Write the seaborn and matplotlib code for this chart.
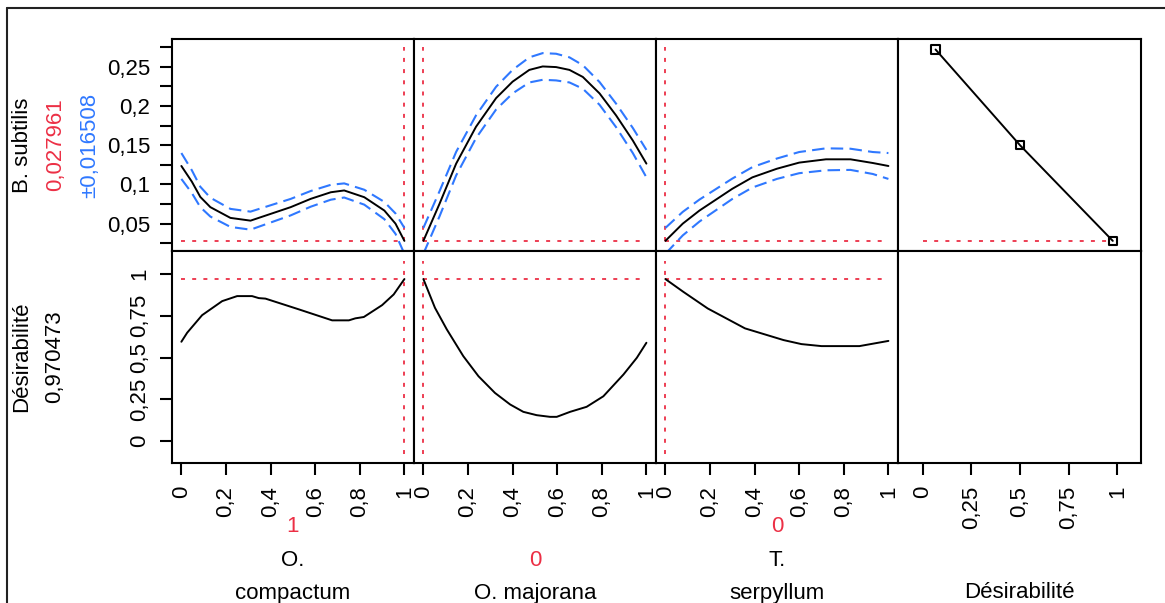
import matplotlib
matplotlib.use("Agg")
import matplotlib.pyplot as plt
from matplotlib.lines import Line2D
import pandas as pd
import seaborn as sns

# ---- profiler data -------------------------------------------------------
# B. subtilis prediction traces (with half-width of the confidence band)
compactum_x = [0, 0.047, 0.085, 0.13, 0.22, 0.31, 0.40, 0.49, 0.58, 0.67, 0.73, 0.82, 0.91,
               0.96, 1.0]
compactum_bs = [0.1235, 0.1035, 0.084, 0.071, 0.0573, 0.0538, 0.0624, 0.071, 0.0816, 0.090,
                0.0923, 0.0837, 0.0667, 0.05, 0.028]
compactum_ci = [0.0165, 0.0145, 0.013, 0.012, 0.0115, 0.0115, 0.011, 0.0105, 0.010, 0.0095,
                0.009, 0.0095, 0.011, 0.013, 0.0165]

majorana_x = [0, 0.072, 0.147, 0.236, 0.326, 0.40, 0.475, 0.535, 0.595, 0.655, 0.715, 0.79,
              0.864, 0.939, 1.0]
majorana_bs = [0.028, 0.075, 0.1265, 0.1735, 0.21, 0.231, 0.246, 0.2504, 0.2496, 0.246, 0.237,
               0.216, 0.188, 0.156, 0.1265]
majorana_ci = [0.0165, 0.016, 0.015, 0.0145, 0.0145, 0.015, 0.016, 0.017, 0.017, 0.016, 0.015,
               0.0145, 0.015, 0.016, 0.0175]

serpyllum_x = [0, 0.078, 0.153, 0.30, 0.39, 0.50, 0.60, 0.72, 0.83, 0.93, 1.0]
serpyllum_bs = [0.028, 0.05, 0.0667, 0.0944, 0.109, 0.120, 0.1278, 0.132, 0.132, 0.1273, 0.1235]
serpyllum_ci = [0.0165, 0.015, 0.014, 0.013, 0.013, 0.013, 0.0135, 0.014, 0.0135, 0.014, 0.0165]

# desirability traces
compactum_dx = [0, 0.026, 0.093, 0.183, 0.25, 0.317, 0.347, 0.377, 0.526, 0.676, 0.751, 0.78,
                0.818, 0.90, 0.952, 1.0]
compactum_d = [0.595, 0.649, 0.754, 0.838, 0.868, 0.868, 0.856, 0.853, 0.789, 0.723, 0.723,
               0.735, 0.743, 0.814, 0.878, 0.970]
majorana_dx = [0, 0.052, 0.105, 0.179, 0.247, 0.321, 0.389, 0.448, 0.508, 0.568, 0.598, 0.658,
               0.732, 0.807, 0.897, 0.957, 1.0]
majorana_d = [0.970, 0.798, 0.669, 0.509, 0.389, 0.289, 0.220, 0.176, 0.156, 0.146, 0.146,
              0.176, 0.206, 0.269, 0.399, 0.499, 0.589]
serpyllum_dx = [0, 0.08, 0.19, 0.357, 0.53, 0.61, 0.70, 0.87, 1.0]
serpyllum_d = [0.970, 0.894, 0.794, 0.675, 0.605, 0.581, 0.569, 0.569, 0.60]

# desirability function for B. subtilis (minimise)
desir_fn_d = [0.066, 0.5, 0.977]
desir_fn_y = [0.272, 0.15, 0.028]

# current settings and predicted values
factor_names = [["O.", "compactum"], ["O. majorana"], ["T.", "serpyllum"]]
factor_current = [1, 0, 0]
current_labels = ["1", "0", "0"]
pred_value = 0.027961
pred_ci = 0.016508
desir_value = 0.970473
pred_text = "0,027961"
ci_text = "±0,016508"
desir_text = "0,970473"

# tick positions and labels
resp_ticks = [0.05, 0.10, 0.15, 0.20, 0.25]
resp_ticklabels = ["0,05", "0,1", "0,15", "0,2", "0,25"]
resp_minor = [0.025, 0.075, 0.125, 0.175, 0.225, 0.275]
des_ticks = [0, 0.25, 0.5, 0.75, 1]
des_ticklabels = ["0", "0,25", "0,5", "0,75", "1"]
fac_ticks = [0, 0.2, 0.4, 0.6, 0.8, 1]
fac_ticklabels = ["0", "0,2", "0,4", "0,6", "0,8", "1"]

# ---- styling -------------------------------------------------------------
sns.set_theme(style="ticks")
plt.rcParams["font.family"] = ["Liberation Sans", "DejaVu Sans"]
for key in ("text.color", "axes.labelcolor", "xtick.color", "ytick.color",
            "xtick.labelcolor", "ytick.labelcolor"):
    plt.rcParams[key] = "black"
RED = "#ec2f45"
BLUE = "#2f78ff"
FS = 16
TFS = 16

W, H = 1165, 603
fig = plt.figure(figsize=(W / 100, H / 100), dpi=100)
fig.patch.set_facecolor("white")


def px_axes(x0, y0, x1, y1):
    return fig.add_axes([x0 / W, (H - y1) / H, (x1 - x0) / W, (y1 - y0) / H])


col_edges = [172, 414, 656, 898, 1141]
row_edges = [39, 251, 463]
fac_xlim = (-0.042, 1.043)
des_xlim = (-0.127, 1.122)
resp_ylim = (0.0151, 0.2854)
des_ylim = (-0.13, 1.1377)

top_axes, bot_axes = [], []
for c in range(4):
    top_axes.append(px_axes(col_edges[c], row_edges[0], col_edges[c + 1], row_edges[1]))
    bot_axes.append(px_axes(col_edges[c], row_edges[1], col_edges[c + 1], row_edges[2]))

for ax in top_axes + bot_axes:
    ax.set_facecolor("white")
    for s in ax.spines.values():
        s.set_linewidth(1.5)
        s.set_color("black")
    ax.tick_params(direction="out", length=8.3, width=1.5, color="black",
                   labelsize=TFS, labelcolor="black")

dot = dict(color=RED, lw=1.3, linestyle=(0, (2.2, 4.0)))
dash = dict(color=BLUE, lw=1.5, linestyle=(0, (6, 3)))
solid = dict(color="black", lw=1.4)

traces = [
    (compactum_x, compactum_bs, compactum_ci, compactum_dx, compactum_d),
    (majorana_x, majorana_bs, majorana_ci, majorana_dx, majorana_d),
    (serpyllum_x, serpyllum_bs, serpyllum_ci, serpyllum_dx, serpyllum_d),
]

for c, (fx, fy, fci, dx, dy) in enumerate(traces):
    df = pd.DataFrame({"x": fx, "y": fy, "ci": fci})
    df["lo"] = df["y"] - df["ci"]
    df["hi"] = df["y"] + df["ci"]
    ax = top_axes[c]
    ax.plot([0, 1], [pred_value, pred_value], **dot)
    ax.plot([factor_current[c]] * 2, [pred_value, 0.275], **dot)
    sns.lineplot(data=df, x="x", y="hi", ax=ax, sort=False, estimator=None, **dash)
    sns.lineplot(data=df, x="x", y="lo", ax=ax, sort=False, estimator=None, **dash)
    sns.lineplot(data=df, x="x", y="y", ax=ax, sort=False, estimator=None, **solid)
    ax.set_xlim(fac_xlim)
    ax.set_ylim(resp_ylim)

    dd = pd.DataFrame({"x": dx, "d": dy})
    ax = bot_axes[c]
    ax.plot([0, 0.97], [desir_value, desir_value], **dot)
    ax.plot([factor_current[c]] * 2, [-0.078, 1.078], **dot)
    sns.lineplot(data=dd, x="x", y="d", ax=ax, sort=False, estimator=None, **solid)
    ax.set_xlim(fac_xlim)
    ax.set_ylim(des_ylim)
    ax.set_xticks(fac_ticks)
    ax.set_xticklabels(fac_ticklabels, rotation=90, va="top", ha="center")
    ax.tick_params(axis="x", pad=8)

# desirability function panel
ax = top_axes[3]
ax.plot([0, desir_fn_d[-1]], [pred_value, pred_value], **dot)
dfn = pd.DataFrame({"d": desir_fn_d, "y": desir_fn_y})
sns.lineplot(data=dfn, x="d", y="y", ax=ax, sort=False, estimator=None, **solid)
sns.scatterplot(data=dfn, x="d", y="y", ax=ax, marker="s", s=38, facecolor="none",
                edgecolor="black", linewidth=1.5, zorder=5)
ax.set_xlim(des_xlim)
ax.set_ylim(resp_ylim)

ax = bot_axes[3]
ax.set_xlim(des_xlim)
ax.set_ylim(des_ylim)
ax.set_xticks(des_ticks)
ax.set_xticklabels(des_ticklabels, rotation=90, va="top", ha="center")
ax.tick_params(axis="x", pad=8)

# tick visibility and axis titles (labels are placed on the figure)
for c in range(4):
    top_axes[c].set_xticks([])
    for ax in (top_axes[c], bot_axes[c]):
        ax.set_xlabel("")
        ax.set_ylabel("")
    if c > 0:
        top_axes[c].set_yticks([])
        bot_axes[c].set_yticks([])

ax = top_axes[0]
ax.set_yticks(resp_ticks)
ax.set_yticklabels(resp_ticklabels)
ax.set_yticks(resp_minor, minor=True)
ax.tick_params(axis="y", which="both", length=8.3, width=1.5, direction="out", pad=7.5)

ax = bot_axes[0]
ax.set_yticks(des_ticks)
ax.set_yticklabels(des_ticklabels, rotation=90, va="center", ha="right")
ax.tick_params(axis="y", pad=7.5)


def ftext(x, y, s, **kw):
    fig.text(x / W, 1 - y / H, s, ha="center", va="center", fontsize=FS, **kw)


# response / desirability labels on the left
ftext(23, 145, "B. subtilis", rotation=90)
ftext(56, 145, pred_text, rotation=90, color=RED)
ftext(90, 145, ci_text, rotation=90, color=BLUE)
ftext(22, 357, "Désirabilité", rotation=90)
ftext(55, 357, desir_text, rotation=90)

# factor labels under each column
centers = [(col_edges[i] + col_edges[i + 1]) / 2 for i in range(4)]
ftext(centers[0], 527, current_labels[0], color=RED)
ftext(centers[0], 561, factor_names[0][0])
ftext(centers[0], 593, factor_names[0][1])
ftext(centers[1], 561, current_labels[1], color=RED)
ftext(centers[1], 593, factor_names[1][0])
ftext(centers[2], 527, current_labels[2], color=RED)
ftext(centers[2], 561, factor_names[2][0])
ftext(centers[2], 593, factor_names[2][1])
ftext(centers[3], 593, "Désirabilité")

# outer frame (top and left edges)
fig.add_artist(Line2D([7 / W, 1], [1 - 8 / H, 1 - 8 / H], color="#222222", lw=1.5,
                      transform=fig.transFigure))
fig.add_artist(Line2D([7 / W, 7 / W], [0, 1 - 8 / H], color="#222222", lw=1.5,
                      transform=fig.transFigure))

fig.savefig("out.png", dpi=100, facecolor="white")
